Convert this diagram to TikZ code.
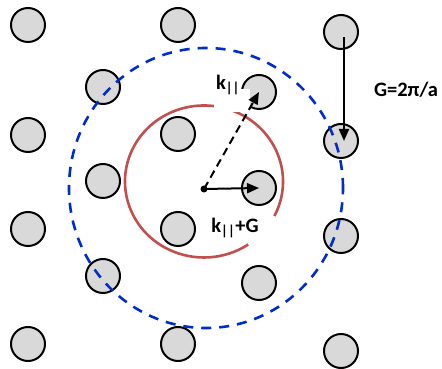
\documentclass[tikz,border=0pt]{standalone}
\usepackage{fontspec}
\setmainfont{Carlito}
\usetikzlibrary{arrows.meta}

\definecolor{ringred}{RGB}{192,80,77}
\definecolor{ringblue}{RGB}{0,45,200}
\definecolor{sitegray}{RGB}{217,217,217}

\begin{document}
\begin{tikzpicture}[x=1pt, y=1pt, font=\fontsize{20.5}{22}\selectfont\bfseries,
  site/.style={circle, draw, line width=2pt, fill=sitegray, minimum size=34pt, inner sep=0pt},
  vec/.style={line width=2pt, -{Triangle[length=12pt,width=10pt]}}]
\useasboundingbox (0,0) rectangle (442,369);
% reciprocal lattice sites
\foreach \n/\x/\y in {1/28/344, 2/178/344, 3/341/337,
    4/103/282, 5/259/277,
    6/28/234, 7/178/235, 8/341/228,
    9/103/188, 10/259/181,
    11/28/140, 12/178/140, 13/341/133,
    14/103/93, 15/259/86,
    16/28/25, 17/178/25, 18/341/18}
  \node[site] (s\n) at (\x,\y) {};
% circles
\draw[ringblue, line width=2.6pt, dash pattern=on 10pt off 8pt] (206,181) ellipse [x radius=137, y radius=140];
\draw[ringred, line width=2.6pt] (204,187.5) ++(-27:79 and 76) arc [start angle=-27, end angle=304, x radius=79, y radius=76];
% labels (white patch of the label box over the site)
\fill[white] (214,257) rectangle (250,280);
\node (kpar) at (228,284) {k\textsubscript{||}};
\node (kG) at (235,141) {k\textsubscript{||}+G};
\node (Glab) at (406,279) {G=2π/a};
% vectors
\node[circle, fill, inner sep=0pt, minimum size=7pt] (o) at (204,180) {};
\draw[vec] (o.center) -- (s10.center);
\draw[vec, dash pattern=on 8pt off 5pt] (o.center) -- (s5.center);
\draw[vec] ([xshift=3pt, yshift=-5pt]s3.center) -- ([xshift=3pt]s8.center);
\end{tikzpicture}
\end{document}
